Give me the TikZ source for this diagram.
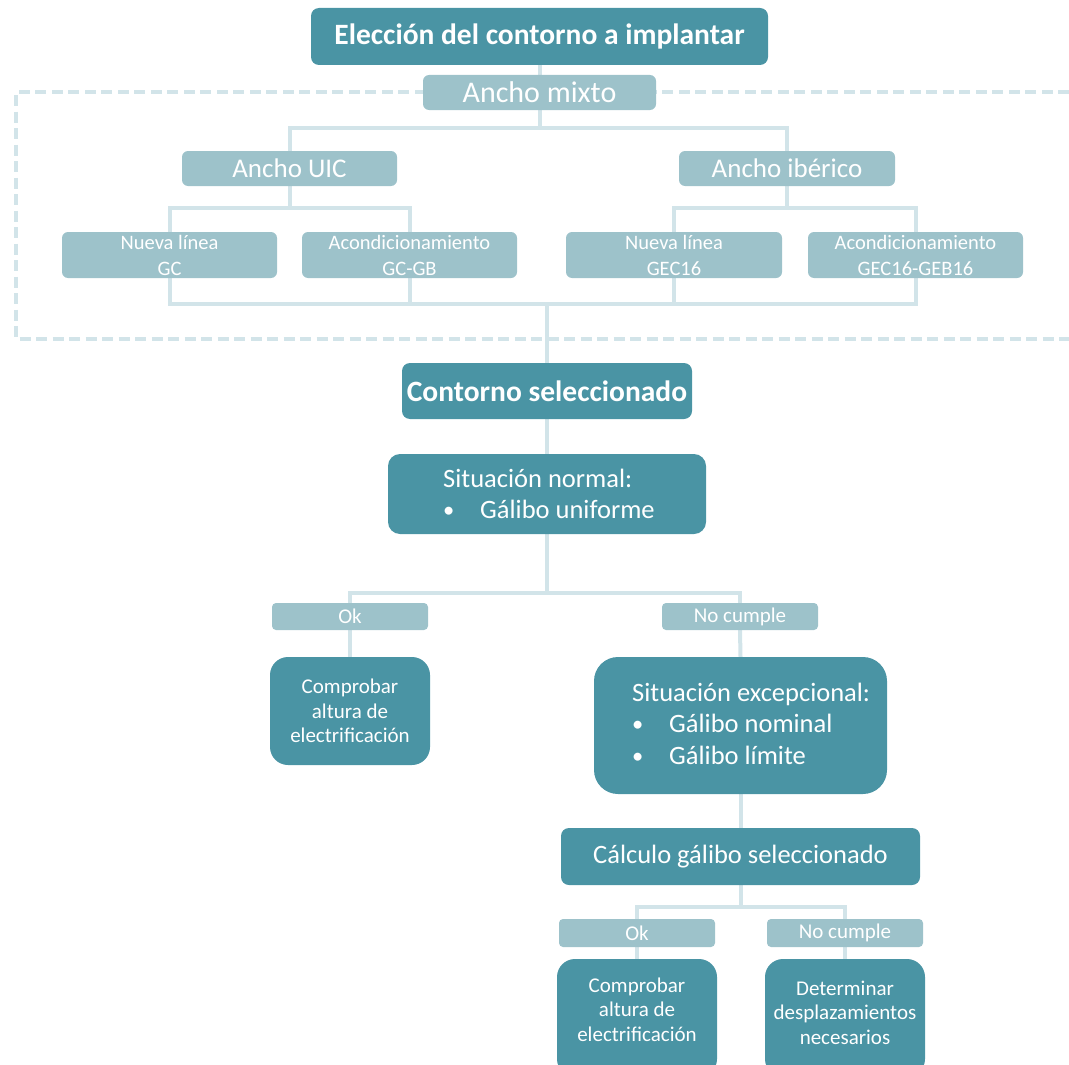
\documentclass[tikz,border=0pt]{standalone}
\usepackage{fontspec}
\setmainfont{Carlito}
\usetikzlibrary{backgrounds}
\definecolor{teal1}{HTML}{4A94A4}
\definecolor{lightbox}{HTML}{9DC2CA}
\definecolor{linec}{HTML}{D2E4E9}
\newcommand{\mybullet}{\makebox[37pt][l]{\raisebox{1pt}{\scalebox{0.85}{•}}}}
\tikzset{
  darkbox/.style={fill=teal1, draw=none, text=white, inner sep=0pt, align=center},
  lightb/.style={fill=lightbox, draw=none, text=white, inner sep=0pt, align=center},
  conn/.style={draw=linec, line width=4pt},
  dashbox/.style={draw=linec, line width=3.3pt, dash pattern=on 11pt off 5.5pt},
  txt/.style={text=white, inner sep=0pt},
  fbig/.style={font=\fontsize{26.5}{31}\selectfont},
  fbold/.style={font=\fontsize{29.5}{34}\selectfont\bfseries},
  fsmall/.style={font=\fontsize{20.5}{26}\selectfont},
  fmid/.style={font=\fontsize{21}{24.5}\selectfont},
}
\begin{document}
\begin{tikzpicture}[x=1pt,y=-1pt]
\useasboundingbox (0,0) rectangle (1069,1065);
\clip (0,0) rectangle (1069,1065);

% top part
\node[darkbox, fbold, rounded corners=8pt, minimum width=457pt, minimum height=57pt] (top) at (539.5,36.5) {Elección del contorno a implantar};
\node[lightb, font=\fontsize{30}{34}\selectfont, rounded corners=6pt, minimum width=233pt, minimum height=35pt] (mixto) at (539.5,92.5) {Ancho mixto};
\node[lightb, font=\fontsize{27}{32}\selectfont, rounded corners=6pt, minimum width=215pt, minimum height=35pt] (uic) at (289.5,168.5) {Ancho UIC};
\node[lightb, font=\fontsize{27}{32}\selectfont, rounded corners=6pt, minimum width=216pt, minimum height=35pt] (iber) at (787,168.5) {Ancho ibérico};

\node[lightb, fsmall, rounded corners=6pt, minimum width=215pt, minimum height=46pt] (l1) at (169.5,255) {Nueva línea\\GC};
\node[lightb, fsmall, rounded corners=6pt, minimum width=215pt, minimum height=46pt] (l2) at (409.5,255) {Acondicionamiento\\GC-GB};
\node[lightb, fsmall, rounded corners=6pt, minimum width=216pt, minimum height=46pt] (l3) at (674,255) {Nueva línea\\GEC16};
\node[lightb, fsmall, rounded corners=6pt, minimum width=215pt, minimum height=46pt] (l4) at (915.5,255) {Acondicionamiento\\GEC16-GEB16};

% middle part
\node[darkbox, fbold, rounded corners=8pt, minimum width=290pt, minimum height=56pt] (sel) at (547,391) {Contorno seleccionado};
\node[darkbox, rounded corners=12pt, minimum width=318pt, minimum height=80pt] (sit1) at (547,494) {};
\node[txt, fbig, anchor=base west] (sit1a) at (443,487) {Situación normal:};
\node[txt, fbig, anchor=base west] (sit1b) at (443,518) {\mybullet Gálibo uniforme};

\node[lightb, fmid, rounded corners=4pt, minimum width=156pt, minimum height=27pt] (ok1) at (350,616.5) {Ok};
\node[lightb, fmid, rounded corners=4pt, minimum width=156pt, minimum height=27pt] (nc1) at (740,616.5) {No cumple};

\node[darkbox, fmid, rounded corners=18pt, minimum width=160pt, minimum height=108pt] (comp1) at (350,711) {Comprobar\\altura de\\electrificación};

\node[darkbox, rounded corners=24pt, minimum width=293pt, minimum height=137pt] (exc) at (740.5,725.5) {};
\node[txt, fbig, anchor=base west] (exca) at (632,701) {Situación excepcional:};
\node[txt, fbig, anchor=base west] (excb) at (632,732) {\mybullet Gálibo nominal};
\node[txt, fbig, anchor=base west] (excc) at (632,764) {\mybullet Gálibo límite};

\node[darkbox, fbig, rounded corners=8pt, minimum width=359pt, minimum height=57pt] (calc) at (740.5,856.5) {Cálculo gálibo seleccionado};

\node[lightb, fmid, rounded corners=4pt, minimum width=156pt, minimum height=28pt] (ok2) at (637,933) {Ok};
\node[lightb, fmid, rounded corners=4pt, minimum width=156pt, minimum height=28pt] (nc2) at (845,933) {No cumple};

\node[darkbox, rounded corners=18pt, minimum width=160pt, minimum height=118pt] (comp2) at (637,1018) {};
\node[txt, fmid, align=center] (comp2t) at (637,1009.5) {Comprobar\\altura de\\electrificación};
\node[darkbox, rounded corners=18pt, minimum width=160pt, minimum height=118pt] (det) at (845,1018) {};
\node[txt, fmid, align=center] (dett) at (845,1012.5) {Determinar\\desplazamientos\\necesarios};

% junction coordinates
\coordinate (j1) at (539.5,128);
\coordinate (j2) at (289.5,208);
\coordinate (j3) at (787,208);
\coordinate (jb) at (547,304);
\coordinate (j4) at (547,593);
\coordinate (j5) at (740.5,907);
\coordinate (dTR) at (1069,92);
\coordinate (dTL) at (16,92);
\coordinate (dBL) at (16,339);
\coordinate (dBR) at (1069,339);

\begin{pgfonlayer}{background}
\draw[dashbox] (dTR) -- (dTL) -- (dBL) -- (dBR);
\draw[conn] (top.south) -- (j1);
\draw[conn] (j1) -| (uic.north);
\draw[conn] (j1) -| (iber.north);
\draw[conn] (uic.south) -- (j2);
\draw[conn] (j2) -| (l1.center);
\draw[conn] (j2) -| (l2.center);
\draw[conn] (iber.south) -- (j3);
\draw[conn] (j3) -| (l3.center);
\draw[conn] (j3) -| (l4.center);
\draw[conn] (l1.center) |- (jb);
\draw[conn] (l2.center) |- (jb);
\draw[conn] (l3.center) |- (jb);
\draw[conn] (l4.center) |- (jb);
\draw[conn] (jb) -- (sel.north);
\draw[conn] (sel.south) -- (sit1.north);
\draw[conn] (sit1.south) -- (j4);
\draw[conn] (j4) -| (ok1.north);
\draw[conn] (j4) -| (nc1.north);
\draw[conn] (ok1.south) -- (comp1.north);
\draw[conn] (nc1.south) -- (exc.north);
\draw[conn] (exc.south) -- (calc.north);
\draw[conn] (calc.south) -- (j5);
\draw[conn] (j5) -| (ok2.north);
\draw[conn] (j5) -| (nc2.north);
\draw[conn] (ok2.south) -- (comp2.north);
\draw[conn] (nc2.south) -- (det.north);
\end{pgfonlayer}
\end{tikzpicture}
\end{document}
